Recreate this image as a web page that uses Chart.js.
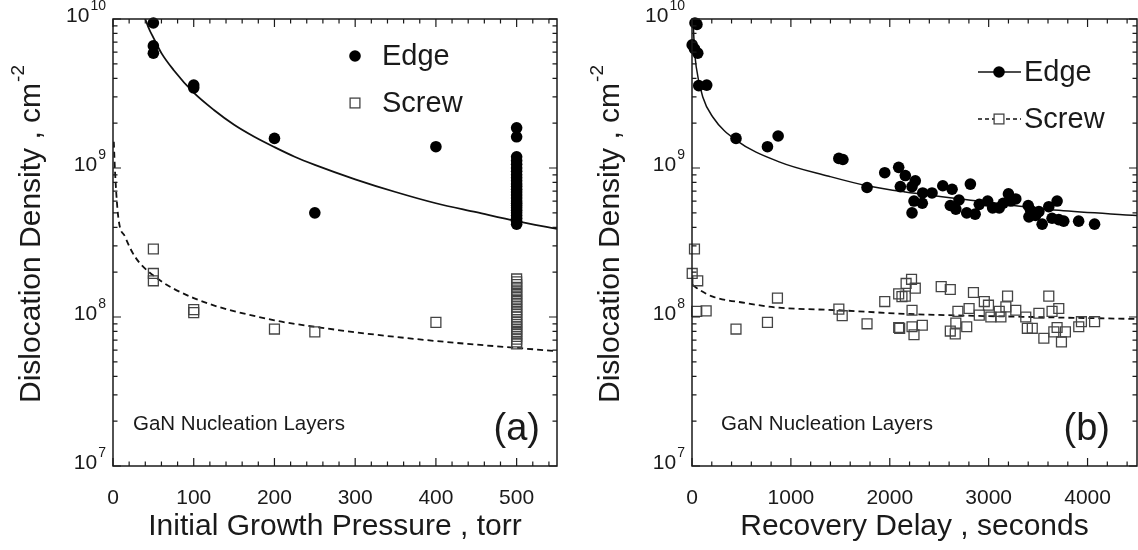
<!DOCTYPE html>
<html>
<head>
<meta charset="utf-8">
<script src="https://cdn.jsdelivr.net/npm/chart.js@4.4.1/dist/chart.umd.min.js"></script>
<style>
  html, body { margin: 0; padding: 0; background: #fff; }
  #wrap { position: relative; width: 1138px; height: 550px; }
  .panel { position: absolute; top: 0; width: 569px; height: 550px; }
  #panelA { left: 0; }
  #panelB { left: 569px; }
</style>
</head>
<body>
<div id="wrap">
  <div class="panel" id="panelA"><canvas id="chartA" width="569" height="550"></canvas></div>
  <div class="panel" id="panelB"><canvas id="chartB" width="569" height="550"></canvas></div>
</div>
<script>
// (a) dislocation density vs initial growth pressure (torr)
const pEdgeX = [50, 50, 50, 100, 100, 200, 250, 400,
  500, 500, 500, 500, 500, 500, 500, 500, 500, 500, 500, 500, 500, 500, 500,
  500, 500, 500, 500, 500, 500, 500, 500, 500, 500, 500];
const pEdgeY = [9.4e9, 6.6e9, 5.9e9, 3.6e9, 3.45e9, 1.58e9, 5.0e8, 1.39e9,
  1.86e9, 1.62e9, 1.19e9, 1.12e9, 1.06e9, 1.0e9, 9.5e8, 9.0e8, 8.6e8, 8.2e8, 7.8e8, 7.5e8, 7.2e8, 6.9e8, 6.6e8,
  6.3e8, 6.0e8, 5.8e8, 5.6e8, 5.4e8, 5.2e8, 5.0e8, 4.8e8, 4.6e8, 4.4e8, 4.2e8];
const pScrewX = [50, 50, 50, 100, 100, 200, 250, 400,
  500, 500, 500, 500, 500, 500, 500, 500, 500, 500, 500, 500, 500, 500, 500,
  500, 500, 500, 500, 500, 500, 500, 500, 500, 500, 500];
const pScrewY = [2.86e8, 1.96e8, 1.75e8, 1.12e8, 1.07e8, 8.3e7, 7.95e7, 9.2e7,
  1.8e8, 1.72e8, 1.65e8, 1.58e8, 1.5e8, 1.44e8, 1.38e8, 1.32e8, 1.27e8, 1.22e8, 1.17e8, 1.12e8, 1.08e8, 1.04e8, 1.0e8,
  9.6e7, 9.2e7, 8.9e7, 8.6e7, 8.3e7, 8.0e7, 7.7e7, 7.4e7, 7.1e7, 6.8e7, 6.6e7];
// fit curves
const pEdgeFitX = [40, 45, 50, 60, 75, 100, 125, 150, 175, 200, 225, 250, 300, 350, 400, 450, 500, 550];
const pEdgeFitY = [1.0e10, 8.5e9, 7.5e9, 5.9e9, 4.55e9, 3.2e9, 2.45e9, 1.95e9, 1.62e9, 1.38e9, 1.19e9, 1.05e9,
  8.4e8, 6.9e8, 5.8e8, 5.05e8, 4.4e8, 3.9e8];
const pScrewFitX = [1, 2.5, 6.5, 15, 27, 50, 100, 200, 250, 300, 400, 500, 550];
const pScrewFitY = [1.5e9, 9.5e8, 4.7e8, 3.45e8, 2.55e8, 1.9e8, 1.34e8, 9.5e7, 8.6e7, 7.9e7, 6.9e7, 6.2e7, 5.9e7];

// (b) dislocation density vs recovery delay (seconds)
const dEdgeX = [30, 50, 2, 25, 58, 68, 149, 445, 763, 871, 1485, 1526, 1770, 1949, 2090, 2107, 2157,
  2258, 2225, 2333, 2427, 2245, 2329, 2225, 2536, 2630, 2815, 2612, 2668, 2778, 2863, 2700, 2905,
  2990, 3040, 3107, 3147, 3200, 3224, 3274, 3400, 3407, 3474, 3541, 3608, 3692, 3641, 3759, 3910,
  4071, 3424, 3508, 3709];
const dEdgeY = [9.4e9, 9.2e9, 6.7e9, 6.3e9, 5.9e9, 3.57e9, 3.6e9, 1.58e9, 1.39e9, 1.64e9, 1.16e9, 1.14e9, 7.4e8, 9.3e8, 1.01e9, 7.5e8, 8.9e8,
  8.2e8, 7.5e8, 6.8e8, 6.8e8, 6.0e8, 5.8e8, 5.0e8, 7.6e8, 7.2e8, 7.8e8, 5.6e8, 5.3e8, 5.0e8, 4.9e8, 6.1e8, 5.7e8,
  6.0e8, 5.4e8, 5.4e8, 5.8e8, 6.7e8, 6.0e8, 6.2e8, 5.6e8, 4.7e8, 4.8e8, 4.2e8, 5.5e8, 6.0e8, 4.6e8, 4.4e8, 4.4e8,
  4.2e8, 5.2e8, 5.1e8, 4.5e8];
const dScrewX = [25, 2, 58, 48, 143, 445, 763, 864, 1485, 1519, 1770, 1949, 2090, 2100, 2157,
  2165, 2220, 2258, 2123, 2225, 2090, 2225, 2245, 2329, 2520, 2612, 2689, 2612, 2668, 2662, 2778,
  2802, 2846, 2905, 2956, 2998, 3022, 3107, 3124, 3191, 3174, 3274, 3375, 3391, 3441, 3508, 3558,
  3608, 3641, 3659, 3692, 3709, 3736, 3776, 3911, 3938, 4071];
const dScrewY = [2.86e8, 1.96e8, 1.75e8, 1.09e8, 1.1e8, 8.3e7, 9.2e7, 1.34e8, 1.13e8, 1.02e8, 9.0e7, 1.27e8, 1.43e8, 8.4e7, 1.38e8,
  1.68e8, 1.79e8, 1.56e8, 1.37e8, 1.11e8, 8.5e7, 8.6e7, 7.6e7, 8.8e7, 1.6e8, 1.53e8, 1.09e8, 8.05e7, 9.1e7, 7.7e7, 8.6e7,
  1.14e8, 1.46e8, 1.03e8, 1.27e8, 1.2e8, 1.0e8, 1.09e8, 1.0e8, 1.38e8, 1.17e8, 1.11e8, 1.0e8, 8.4e7, 8.4e7, 1.06e8, 7.2e7,
  1.38e8, 1.09e8, 7.95e7, 8.5e7, 1.14e8, 6.8e7, 7.95e7, 8.6e7, 9.3e7, 9.3e7];
const dEdgeFitX = [10, 25, 42, 109, 210, 445, 881, 1385, 1770, 2157, 2905, 3709, 4500];
const dEdgeFitY = [1.0e10, 6.3e9, 4.8e9, 3.0e9, 2.2e9, 1.54e9, 1.1e9, 8.8e8, 7.6e8, 6.9e8, 6.0e8, 5.2e8, 4.8e8];
const dScrewFitX = [8, 76, 210, 546, 848, 1485, 2157, 3441, 4500];
const dScrewFitY = [1.64e8, 1.52e8, 1.37e8, 1.24e8, 1.16e8, 1.11e8, 1.05e8, 1.0e8, 9.7e7];

const yExps = [7, 8, 9, 10];
const FONT = '"Liberation Sans", Arial, Helvetica, sans-serif';
const INK = '#1a1a1a';

function pairs(xs, ys) {
  return xs.map((x, i) => ({ x: x, y: ys[i] }));
}

function pointSet(xs, ys, square) {
  return {
    data: pairs(xs, ys),
    showLine: false,
    clip: false,
    pointStyle: square ? 'rect' : 'circle',
    pointRadius: square ? 7 : 5.8,
    pointBackgroundColor: square ? 'rgba(0,0,0,0)' : '#000',
    pointBorderColor: square ? '#444' : '#000',
    pointBorderWidth: square ? 1.3 : 0,
    order: 1
  };
}

function fitSet(xs, ys, dashed, width) {
  return {
    data: pairs(xs, ys),
    showLine: true,
    pointRadius: 0,
    borderColor: '#111',
    borderWidth: width,
    borderDash: dashed ? [6, 4] : [],
    cubicInterpolationMode: 'monotone',
    order: 2
  };
}

// 10 with a raised exponent, right aligned at xr
function drawPow(ctx, exp, xr, y) {
  ctx.font = '21px ' + FONT;
  const wb = ctx.measureText('10').width;
  ctx.font = '14px ' + FONT;
  const we = ctx.measureText(String(exp)).width;
  const x0 = xr - wb - we - 1;
  ctx.textAlign = 'left';
  ctx.textBaseline = 'middle';
  ctx.font = '21px ' + FONT;
  ctx.fillText('10', x0, y);
  ctx.font = '14px ' + FONT;
  ctx.fillText(String(exp), x0 + wb + 1, y - 10);
}

function panelDecor(cfg) {
  return {
    id: 'panelDecor',
    afterDraw(chart) {
      const ctx = chart.ctx;
      const a = chart.chartArea;
      const xs = chart.scales.x, ys = chart.scales.y;
      ctx.save();
      ctx.strokeStyle = INK;
      ctx.fillStyle = INK;
      ctx.lineWidth = 1.5;
      ctx.strokeRect(a.left, a.top, a.right - a.left, a.bottom - a.top);

      // inward ticks on all four sides
      ctx.lineWidth = 1.2;
      ctx.beginPath();
      for (let v = xs.min; v <= xs.max + 1e-6; v += cfg.xMinor) {
        const px = xs.getPixelForValue(v);
        const len = Math.abs(v / cfg.xMajor - Math.round(v / cfg.xMajor)) < 1e-6 ? 8 : 4.5;
        ctx.moveTo(px, a.bottom); ctx.lineTo(px, a.bottom - len);
        ctx.moveTo(px, a.top); ctx.lineTo(px, a.top + len);
      }
      for (let e = 7; e <= 10; e++) {
        for (let m = 1; m <= 9; m++) {
          if (e === 10 && m > 1) break;
          const py = ys.getPixelForValue(m * Math.pow(10, e));
          const len = m === 1 ? 8 : 4.5;
          ctx.moveTo(a.left, py); ctx.lineTo(a.left + len, py);
          ctx.moveTo(a.right, py); ctx.lineTo(a.right - len, py);
        }
      }
      ctx.stroke();

      // tick labels
      ctx.font = '21px ' + FONT;
      ctx.textAlign = 'center';
      ctx.textBaseline = 'middle';
      for (let v = xs.min; v <= cfg.xLabelMax; v += cfg.xMajor) {
        ctx.fillText(String(v), xs.getPixelForValue(v), a.bottom + 32);
      }
      yExps.forEach(e => drawPow(ctx, e, a.left - 7, ys.getPixelForValue(Math.pow(10, e)) - 3));

      // axis titles
      ctx.font = '30px ' + FONT;
      ctx.textAlign = 'center';
      ctx.fillText(cfg.xTitle, (a.left + a.right) / 2, a.bottom + 61);

      ctx.save();
      ctx.translate(a.left - 81, (a.top + a.bottom) / 2 - 8);
      ctx.rotate(-Math.PI / 2);
      const main = 'Dislocation Density , cm';
      ctx.font = '30px ' + FONT;
      const wm = ctx.measureText(main).width;
      ctx.font = '19px ' + FONT;
      const ws = ctx.measureText('-2').width;
      const x0 = -(wm + ws) / 2;
      ctx.textAlign = 'left';
      ctx.font = '30px ' + FONT;
      ctx.fillText(main, x0, 0);
      ctx.font = '19px ' + FONT;
      ctx.fillText('-2', x0 + wm + 1, -13);
      ctx.restore();

      // in-plot notes
      ctx.font = '20.5px ' + FONT;
      ctx.textAlign = 'left';
      ctx.fillText('GaN Nucleation Layers', a.left + cfg.noteDx, a.bottom - 42);
      ctx.font = '38px ' + FONT;
      ctx.textAlign = 'right';
      ctx.fillText(cfg.tag, a.right - cfg.tagDx, a.bottom - 36);

      // key
      const lx = a.left + cfg.keyDx;
      ctx.font = '29px ' + FONT;
      ctx.textAlign = 'left';
      cfg.keyRows.forEach((row, i) => {
        const ky = a.top + cfg.keyDy + i * 47;
        ctx.strokeStyle = '#111';
        if (cfg.keyLines) {
          ctx.lineWidth = 1.5;
          ctx.setLineDash(row.square ? [4, 3] : []);
          ctx.beginPath();
          ctx.moveTo(lx - 21, ky); ctx.lineTo(lx + 22, ky);
          ctx.stroke();
          ctx.setLineDash([]);
        }
        if (row.square) {
          ctx.fillStyle = '#fff';
          ctx.fillRect(lx - 4.9, ky - 4.9, 9.8, 9.8);
          ctx.strokeStyle = '#444';
          ctx.lineWidth = 1.3;
          ctx.strokeRect(lx - 4.9, ky - 4.9, 9.8, 9.8);
        } else {
          ctx.fillStyle = '#000';
          ctx.beginPath();
          ctx.arc(lx, ky, 5.8, 0, Math.PI * 2);
          ctx.fill();
        }
        ctx.fillStyle = INK;
        ctx.fillText(row.text, lx + cfg.keyTextDx, ky + 1);
      });
      ctx.restore();
    }
  };
}

function makePanel(id, datasets, xMax, padRight, cfg) {
  return new Chart(document.getElementById(id), {
    type: 'scatter',
    data: { datasets: datasets },
    options: {
      responsive: false,
      animation: false,
      layout: { autoPadding: false, padding: { top: 19, right: padRight, left: 0, bottom: 0 } },
      plugins: { legend: { display: false }, tooltip: { enabled: false } },
      scales: {
        x: {
          type: 'linear', min: 0, max: xMax,
          ticks: { display: false }, grid: { display: false }, border: { display: false },
          afterFit: s => { s.height = 84; }
        },
        y: {
          type: 'logarithmic', min: 1e7, max: 1e10,
          ticks: { display: false }, grid: { display: false }, border: { display: false },
          afterFit: s => { s.width = cfg.plotLeft; }
        }
      }
    },
    plugins: [panelDecor(cfg)]
  });
}

const keyRows = [{ text: 'Edge', square: false }, { text: 'Screw', square: true }];

makePanel('chartA', [
  fitSet(pEdgeFitX, pEdgeFitY, false, 1.8),
  fitSet(pScrewFitX, pScrewFitY, true, 1.8),
  pointSet(pEdgeX, pEdgeY, false),
  pointSet(pScrewX, pScrewY, true)
], 550, 12, {
  plotLeft: 113, xMajor: 100, xMinor: 20, xLabelMax: 500,
  xTitle: 'Initial Growth Pressure , torr',
  tag: '(a)', tagDx: 17, noteDx: 20,
  keyDx: 242, keyDy: 37, keyLines: false, keyTextDx: 27, keyRows: keyRows
});

makePanel('chartB', [
  fitSet(dEdgeFitX, dEdgeFitY, false, 1.5),
  fitSet(dScrewFitX, dScrewFitY, true, 1.8),
  pointSet(dEdgeX, dEdgeY, false),
  pointSet(dScrewX, dScrewY, true)
], 4500, 1, {
  plotLeft: 123, xMajor: 1000, xMinor: 200, xLabelMax: 4000,
  xTitle: 'Recovery Delay , seconds',
  tag: '(b)', tagDx: 27, noteDx: 29,
  keyDx: 307, keyDy: 53, keyLines: true, keyTextDx: 25, keyRows: keyRows
});
</script>
</body>
</html>
